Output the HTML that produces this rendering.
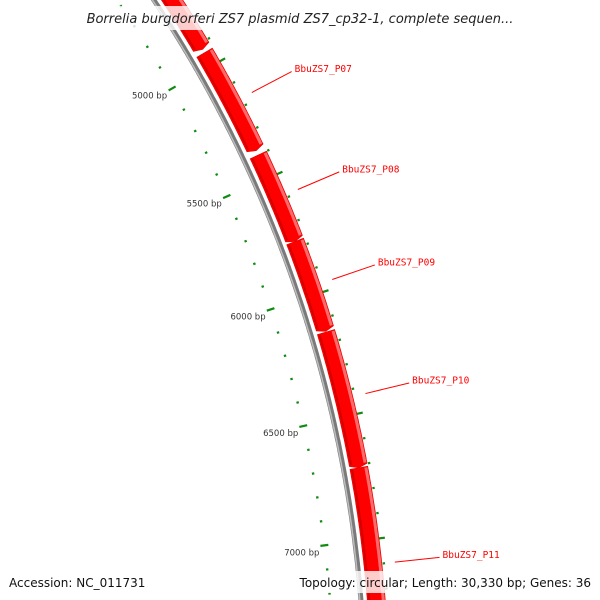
<!DOCTYPE html>
<html><head><meta charset="utf-8"><style>
html,body{margin:0;padding:0;background:#fff;overflow:hidden;width:600px;height:600px;}
svg{display:block;font-family:"DejaVu Sans","Liberation Sans",sans-serif;overflow:hidden;}
</style></head><body>
<svg id="map" width="600" height="600" viewBox="0 0 600 600" xmlns="http://www.w3.org/2000/svg">
<g id="ticks"></g>
<g id="backbone"></g>
<g id="genes"></g>
<g id="labels"></g>
<rect x="70" y="6" width="465" height="24" fill="#fff" opacity="0.8"/>
<text x="300" y="23" text-anchor="middle" font-size="13" font-style="italic" fill="#222">Borrelia burgdorferi ZS7 plasmid ZS7_cp32-1, complete sequen...</text>
<rect x="4" y="571" width="592" height="22" fill="#fff" opacity="0.8"/>
<text x="9" y="587" font-size="12" fill="#111">Accession: NC_011731</text>
<text x="591" y="587" text-anchor="end" font-size="12" fill="#111">Topology: circular; Length: 30,330 bp; Genes: 36</text>
</svg>
<script>
const geneNames = ["BbuZS7_P06","BbuZS7_P07","BbuZS7_P08","BbuZS7_P09","BbuZS7_P10","BbuZS7_P11"];
const geneStarts = [4400,4940,5400,5774,6155,6711];
const geneEnds = [4925,5381,5774,6152,6711,7700];
const labeledGenes = ["BbuZS7_P07","BbuZS7_P08","BbuZS7_P09","BbuZS7_P10","BbuZS7_P11"];
const labelPositions = [5168,5588,5965,6430,7100];
const tickLabels = [5000,5500,6000,6500,7000];

const NS="http://www.w3.org/2000/svg";
const CX=-907.7, CY=702.1;
function ang(bp){return (-29.61+(bp-5000)*0.01118)*Math.PI/180;}
function pt(r,bp){const a=ang(bp);return [CX+r*Math.cos(a),CY+r*Math.sin(a)];}
function mk(tag,attrs,parent){const e=document.createElementNS(NS,tag);for(const k in attrs)e.setAttribute(k,attrs[k]);parent.appendChild(e);return e;}
function arc(r,b0,b1){let d="";for(let b=b0;b<=b1;b+=10){const p=pt(r,b);d+=(d?"L":"M")+p[0].toFixed(1)+","+p[1].toFixed(1);}const p=pt(r,b1);d+="L"+p[0].toFixed(1)+","+p[1].toFixed(1);return d;}

const bb=document.getElementById("backbone");
let e=mk("path",{d:arc(1272.7,4300,7800),stroke:"#7a7a7a","stroke-width":5,fill:"none"},bb);


e=mk("path",{d:arc(1271.5,4300,7800),stroke:"#bdbdbd","stroke-width":1.5,fill:"none"},bb);



const tg=document.getElementById("ticks");
for(let b=4400;b<=7700;b+=100){
  const major=b%500===0;
  const half=major?4:1.2;
  [1242,1299].forEach(r=>{
    const p0=pt(r-half,b),p1=pt(r+half,b);
    const t=mk("line",{x1:p0[0],y1:p0[1],x2:p1[0],y2:p1[1],stroke:"#118a11","stroke-width":2.2},tg);
    
    
  });
}
tickLabels.forEach(b=>{
  const p=pt(1242,b);
  const t=mk("text",{x:p[0]-5,y:p[1]+10,"text-anchor":"end","font-size":"8.5",fill:"#333"},tg);
  t.textContent=b+" bp";
  
  
});

const gg=document.getElementById("genes");
const lg=document.getElementById("labels");
for(let i=0;i<geneNames.length;i++){
  const s=geneStarts[i],en=geneEnds[i];
  const tip=en-12;
  const rIn=1279,rOut=1297,rMid=1288;
  let d=arc(rOut,s,tip);
  const pm=pt(rMid,en);d+="L"+pm[0].toFixed(1)+","+pm[1].toFixed(1);
  const inner=arc(rIn,s,tip).replace("M","L");
  const pts=inner.split("L").filter(x=>x).reverse();
  d+="L"+pts.join("L")+"Z";
  const g=mk("g",{},gg);
  
  
  mk("path",{d:d,fill:"#ff0000",stroke:"#e00000","stroke-width":0.6},g);
  const hl=mk("path",{d:arc(1295,s+4,tip-4),stroke:"#ff6a6a","stroke-width":3,fill:"none"},g);
  
  
  const sh=mk("path",{d:arc(1281,s+4,tip-4),stroke:"#d40000","stroke-width":2,fill:"none"},g);
  
  
  const li=labeledGenes.indexOf(geneNames[i]);
  if(li>=0){
    const lb=labelPositions[li];
    const p0=pt(1310,lb),p1=pt(1355,lb);
    const ln=mk("line",{x1:p0[0],y1:p0[1],x2:p1[0],y2:p1[1],stroke:"#ff0000","stroke-width":1},lg);
    
    
    const tx=mk("text",{x:p1[0]+3,y:p1[1]+0.5,"font-size":"9.5",fill:"#ff0000","font-family":"DejaVu Sans Mono, Liberation Mono, monospace"},lg);
    tx.textContent=geneNames[i];
    
    
  }
}
</script>
</body></html>
